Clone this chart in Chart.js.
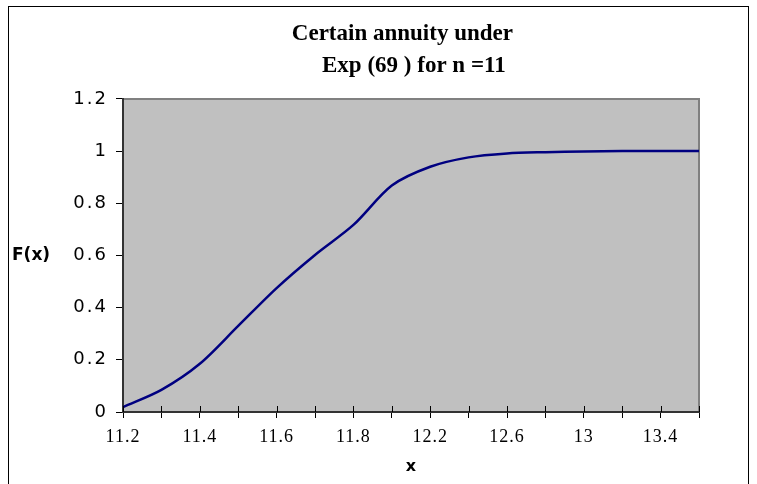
<!DOCTYPE html>
<html>
<head>
<meta charset="utf-8">
<script src="https://cdn.jsdelivr.net/npm/chart.js@4.4.1/dist/chart.umd.min.js"></script>
<style>
  html, body { margin: 0; padding: 0; background: #fff; }
  canvas { display: block; }
</style>
</head>
<body>
<canvas id="cv" width="757" height="484"></canvas>
<script>
// x categories (every other one is labelled on the axis)
const xLabels = ['11.2', '11.3', '11.4', '11.5', '11.6', '11.7', '11.8', '12',
                 '12.2', '12.4', '12.6', '12.8', '13', '13.2', '13.4', '13.6'];
// F(x)
const fValues = [0.019, 0.085, 0.185, 0.33, 0.475, 0.602, 0.717, 0.868,
                 0.940, 0.976, 0.991, 0.996, 0.999, 1.0, 1.0, 1.0];
const titleLines = ['Certain annuity under   ', ' Exp (69 ) for n =11'];
const yMin = 0, yMax = 1.2, yStep = 0.2;

Chart.defaults.color = '#000';

// white page, outer frame, grey plot area
const frame = {
  id: 'frame',
  beforeDraw(chart) {
    const { ctx, chartArea: a } = chart;
    ctx.save();
    ctx.fillStyle = '#fff';
    ctx.fillRect(0, 0, chart.width, chart.height);
    ctx.strokeStyle = '#000';
    ctx.lineWidth = 1;
    ctx.strokeRect(8.5, 6.5, 740, 490);
    ctx.fillStyle = '#c0c0c0';
    ctx.fillRect(a.left, a.top, a.right - a.left, a.bottom - a.top);
    ctx.strokeStyle = '#808080';
    ctx.lineWidth = 2;
    ctx.beginPath();
    ctx.moveTo(a.left, a.top);
    ctx.lineTo(a.right, a.top);
    ctx.lineTo(a.right, a.bottom);
    ctx.stroke();
    ctx.restore();
  },
  afterDraw(chart) {
    // x tick marks cross the axis: add the part inside the plot
    const { ctx, chartArea: a } = chart;
    const xs = chart.scales.x;
    ctx.save();
    ctx.strokeStyle = '#000';
    ctx.lineWidth = 1;
    ctx.beginPath();
    xs.ticks.forEach((t, i) => {
      const px = Math.round(xs.getPixelForTick(i)) + 0.5;
      ctx.moveTo(px, a.bottom - 6);
      ctx.lineTo(px, a.bottom);
    });
    ctx.stroke();
    // horizontal y axis title
    ctx.font = 'bold 17px "DejaVu Sans"';
    ctx.textBaseline = 'middle';
    ctx.textAlign = 'left';
    ctx.fillStyle = '#000';
    ctx.fillText('F(x)', 12, 256);
    ctx.restore();
  }
};

// the reference labels are set wide; add a little letter spacing to the tick labels
const labelSpacing = {
  id: 'labelSpacing',
  beforeDraw(chart) {
    [['x', '1px'], ['y', '2px']].forEach(([id, sp]) => {
      const s = chart.scales[id];
      if (!s || s._spaced) return;
      const draw = s.drawLabels;
      s.drawLabels = function (area) {
        const old = this.ctx.letterSpacing;
        this.ctx.letterSpacing = sp;
        draw.call(this, area);
        this.ctx.letterSpacing = old;
      };
      s._spaced = true;
    });
  }
};

new Chart(document.getElementById('cv'), {
  type: 'line',
  data: {
    labels: xLabels,
    datasets: [{
      data: fValues,
      borderColor: '#000080',
      borderWidth: 2.5,
      tension: 0.3,
      pointRadius: 0,
      fill: false
    }]
  },
  options: {
    responsive: false,
    animation: false,
    events: [],
    layout: { padding: { left: 0, right: 58, top: 0, bottom: 8 } },
    plugins: {
      legend: { display: false },
      tooltip: { enabled: false },
      title: {
        display: true,
        fullSize: false,
        text: titleLines,
        color: '#000',
        font: { family: '"Liberation Serif", "Times New Roman", serif', size: 23, weight: 'bold', lineHeight: 1.39 },
        padding: { top: 18, bottom: 17 }
      }
    },
    scales: {
      x: {
        offset: false,
        afterFit: (s) => { s.height = 64; },
        grid: { drawOnChartArea: false, drawTicks: true, tickLength: 6, color: '#000' },
        border: { display: true, color: '#333', width: 2 },
        ticks: {
          autoSkip: false,
          maxRotation: 0,
          padding: 8,
          font: { family: '"Liberation Serif", "Times New Roman", serif', size: 18 },
          callback: (v, i) => (i % 2 === 0 ? xLabels[i] : '')
        },
        title: {
          display: true,
          text: 'x',
          font: { family: '"DejaVu Sans"', size: 16, weight: 'bold' },
          padding: { top: 0, bottom: 0 }
        }
      },
      y: {
        min: yMin,
        max: yMax,
        afterFit: (s) => { s.width = 123; },
        grid: { drawOnChartArea: false, drawTicks: true, tickLength: 7, color: '#000' },
        border: { display: true, color: '#333', width: 2 },
        ticks: {
          stepSize: yStep,
          padding: 8,
          font: { family: '"DejaVu Sans"', size: 18 },
          callback: (v) => String(Number(v.toFixed(1)))
        }
      }
    }
  },
  plugins: [frame, labelSpacing]
});
</script>
</body>
</html>
